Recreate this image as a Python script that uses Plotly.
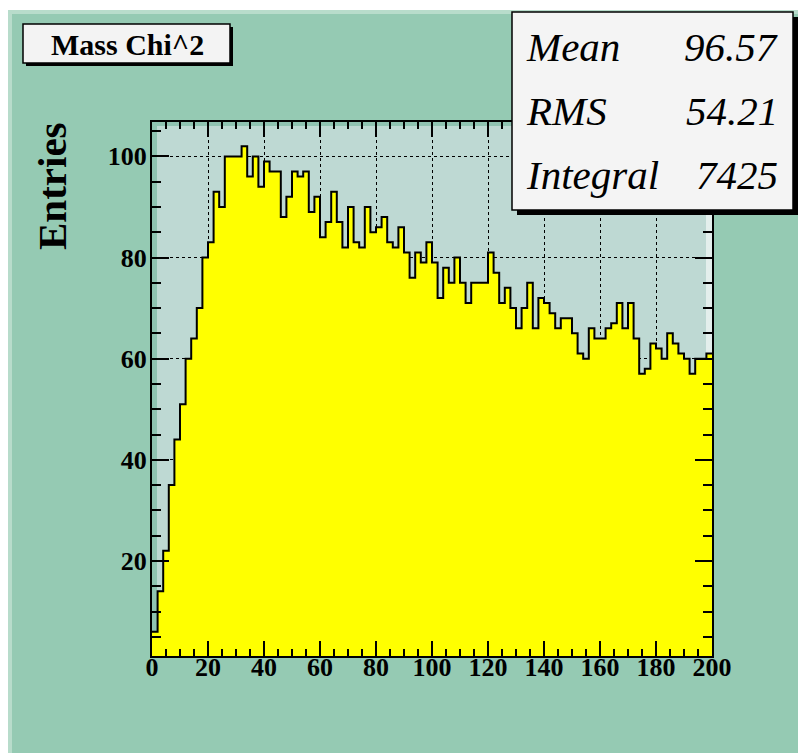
import numpy as np
import plotly.graph_objects as go

# Histogram contents: 100 bins of width 2 over [0, 200)
bin_width = 2
bin_low_edges = np.arange(0, 200, bin_width)
counts = [
    6, 14, 22, 35, 44, 51, 60, 64, 70, 80,
    83, 93, 90, 100, 100, 100, 102, 96, 100, 94,
    99, 97, 97, 88, 92, 97, 96, 97, 89, 92,
    84, 87, 93, 87, 82, 90, 83, 82, 90, 85,
    86, 88, 83, 82, 86, 81, 76, 81, 79, 83,
    79, 72, 78, 75, 80, 75, 71, 75, 75, 75,
    81, 77, 71, 74, 70, 66, 70, 75, 66, 72,
    71, 69, 66, 68, 68, 65, 61, 60, 66, 64,
    64, 66, 67, 71, 66, 71, 64, 57, 58, 63,
    62, 60, 65, 63, 61, 60, 57, 60, 60, 61,
]

title_text = "Mass Chi^2"
y_title = "Entries"
stat_names = ["Mean", "RMS", "Integral"]
stat_values = ["96.57", "54.21", "7425"]

x_ticks = [0, 20, 40, 60, 80, 100, 120, 140, 160, 180, 200]
y_ticks = [20, 40, 60, 80, 100]

W, H = 798, 753
L, R, T, B = 152, 712, 122, 656  # frame in pixels


def px(xp):
    return (xp - L) / (R - L)


def py(yp):
    return (B - yp) / (B - T)


step_x = list(bin_low_edges) + [bin_low_edges[-1] + bin_width]
step_y = list(counts) + [counts[-1]]

fig = go.Figure()
fig.add_trace(go.Scatter(
    x=step_x, y=step_y, mode="lines", line_shape="hv",
    line=dict(color="black", width=2),
    fill="tozeroy", fillcolor="#ffff00",
    hoverinfo="skip", showlegend=False,
))

canvas = "#95cab3"
shapes = [
    # pad background with light bevel on top/left
    dict(type="rect", xref="paper", yref="paper", x0=px(8), x1=px(W + 5), y0=py(H + 5), y1=py(10),
         fillcolor="#b8dccb", line_width=0, layer="below"),
    dict(type="rect", xref="paper", yref="paper", x0=px(12), x1=px(W + 5), y0=py(H + 5), y1=py(14),
         fillcolor=canvas, line_width=0, layer="below"),
    # frame interior
    dict(type="rect", xref="paper", yref="paper", x0=0, x1=1, y0=0, y1=1,
         fillcolor="#bed9d3", line_width=0, layer="below"),
    # frame bevel: dark left/top, light right
    dict(type="rect", xref="paper", yref="paper", x0=0, x1=px(L + 5), y0=0, y1=1,
         fillcolor="#8fc3b1", line_width=0, layer="below"),
    dict(type="rect", xref="paper", yref="paper", x0=0, x1=1, y0=py(T + 4), y1=1,
         fillcolor="#8fc3b1", line_width=0, layer="below"),
    dict(type="rect", xref="paper", yref="paper", x0=px(R - 6), x1=1, y0=0, y1=py(T + 4),
         fillcolor="#e3efec", line_width=0, layer="below"),
    # title box with shadow
    dict(type="rect", xref="paper", yref="paper", x0=px(26), x1=px(233), y0=py(66), y1=py(27),
         fillcolor="black", line_width=0, layer="above"),
    dict(type="rect", xref="paper", yref="paper", x0=px(23), x1=px(230), y0=py(63), y1=py(24),
         fillcolor="#f3f3f3", line=dict(color="black", width=1.5), layer="above"),
    # statistics box with shadow
    dict(type="rect", xref="paper", yref="paper", x0=px(517), x1=px(799), y0=py(215), y1=py(17),
         fillcolor="black", line_width=0, layer="above"),
    dict(type="rect", xref="paper", yref="paper", x0=px(512), x1=px(793), y0=py(210), y1=py(12),
         fillcolor="#f4f4f4", line=dict(color="black", width=1.5), layer="above"),
]

serif = "Liberation Serif"
annotations = [
    dict(text=title_text, x=px(127), y=py(44), xref="paper", yref="paper",
         xanchor="center", yanchor="middle", showarrow=False,
         font=dict(family=serif, size=30, color="black", weight="bold")),
    dict(text=y_title, x=px(52), y=py(186), xref="paper", yref="paper",
         xanchor="center", yanchor="middle", showarrow=False, textangle=-90,
         font=dict(family=serif, size=41, color="black", weight="bold")),
]
row_centers = [47, 111, 175]
for name, val, yc in zip(stat_names, stat_values, row_centers):
    annotations.append(dict(text=name, x=px(524), y=py(yc), xref="paper", yref="paper",
                            xanchor="left", yanchor="middle", showarrow=False,
                            font=dict(family=serif, size=41, color="black", style="italic")))
    annotations.append(dict(text=val, x=px(780), y=py(yc), xref="paper", yref="paper",
                            xanchor="right", yanchor="middle", showarrow=False,
                            font=dict(family=serif, size=41, color="black", style="italic")))

tickfont = dict(family=serif, size=26, color="black", weight="bold")
fig.update_layout(
    width=W, height=H,
    margin=dict(l=L, r=W - R, t=T, b=H - B, pad=0),
    paper_bgcolor="white", plot_bgcolor="rgba(0,0,0,0)",
    shapes=shapes, annotations=annotations,
    xaxis=dict(
        range=[0, 200], tickvals=x_ticks, ticktext=[str(v) for v in x_ticks],
        ticks="inside", ticklen=15, tickwidth=2, tickcolor="black",
        minor=dict(dtick=5, tick0=0, ticks="inside", ticklen=7, tickwidth=2, tickcolor="black"),
        showline=True, linecolor="black", linewidth=2, mirror="ticks",
        showgrid=True, gridcolor="black", gridwidth=1, griddash="dot",
        zeroline=False, tickfont=tickfont, fixedrange=True, ticklabelstandoff=-13,
    ),
    yaxis=dict(
        range=[1.2, 106.8], tickvals=y_ticks, ticktext=[str(v) for v in y_ticks],
        ticks="inside", ticklen=17, tickwidth=2, tickcolor="black",
        minor=dict(dtick=5, tick0=0, ticks="inside", ticklen=9, tickwidth=2, tickcolor="black"),
        showline=True, linecolor="black", linewidth=2, mirror="ticks",
        showgrid=True, gridcolor="black", gridwidth=1, griddash="dot",
        zeroline=False, tickfont=tickfont, fixedrange=True, ticklabelstandoff=-2,
    ),
)

fig.write_html("out.html")
